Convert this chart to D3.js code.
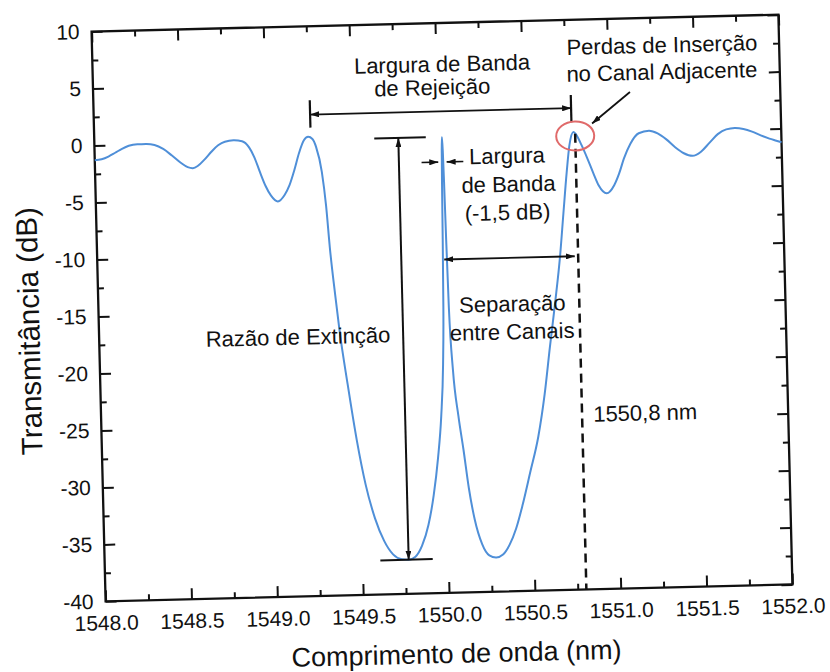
<!DOCTYPE html>
<html>
<head>
<meta charset="utf-8">
<script src="https://cdn.jsdelivr.net/npm/d3@7"></script>
<style>
  body { margin: 0; background: #fff; }
  svg text { font-family: "Liberation Sans", Arial, Helvetica, sans-serif; fill: #111; }
</style>
</head>
<body>
<svg id="chart" width="830" height="672"></svg>
<script>
// Measured filter transmission spectrum (wavelength in nm, transmittance in dB)
const wavelength = [
  1548.00, 1548.04, 1548.08, 1548.12, 1548.16, 1548.20, 1548.25, 1548.30, 1548.35, 1548.40,
  1548.45, 1548.50, 1548.54, 1548.57, 1548.60, 1548.64, 1548.68, 1548.72, 1548.76, 1548.81,
  1548.86, 1548.90, 1548.93, 1548.96, 1548.99, 1549.02, 1549.06, 1549.10, 1549.13, 1549.16,
  1549.19, 1549.22, 1549.245, 1549.27, 1549.29, 1549.32, 1549.34, 1549.356, 1549.38, 1549.40,
  1549.44, 1549.485, 1549.53, 1549.58, 1549.63, 1549.68, 1549.73, 1549.77, 1549.81, 1549.85,
  1549.89, 1549.925, 1549.955, 1549.98, 1549.998, 1550.008, 1550.014, 1550.018, 1550.021, 1550.024,
  1550.027, 1550.030, 1550.034, 1550.040, 1550.055, 1550.08, 1550.105, 1550.13, 1550.16, 1550.20,
  1550.24, 1550.28, 1550.32, 1550.36, 1550.40, 1550.44, 1550.49, 1550.542, 1550.585, 1550.623,
  1550.66, 1550.694, 1550.72, 1550.745, 1550.765, 1550.79, 1550.81, 1550.835, 1550.865, 1550.90,
  1550.93, 1550.975, 1551.02, 1551.05, 1551.08, 1551.12, 1551.17, 1551.23, 1551.28, 1551.33,
  1551.38, 1551.43, 1551.48, 1551.53, 1551.58, 1551.63, 1551.68, 1551.73, 1551.78, 1551.83,
  1551.88, 1551.93, 1551.97, 1552.00
];
const transmittance = [
  -1.30, -1.22, -1.00, -0.68, -0.35, -0.10, 0.02, 0.03, -0.08, -0.45,
  -1.05, -1.70, -2.10, -2.20, -2.00, -1.45, -0.80, -0.25, 0.05, 0.15,
  0.05, -0.50, -1.40, -2.70, -3.90, -4.75, -5.30, -4.75, -3.90, -2.60,
  -1.10, 0.00, 0.30, 0.10, -0.60, -2.80, -5.80, -9.50, -13.60, -16.70,
  -21.50, -26.40, -30.30, -33.30, -35.30, -36.50, -36.95, -37.00, -36.75, -35.80,
  -34.00, -31.40, -28.20, -24.50, -20.00, -15.00, -9.00, -4.00, -1.20, 0.00,
  -1.20, -4.00, -9.00, -15.00, -20.50, -24.50, -27.50, -30.80, -33.60, -35.80,
  -36.80, -37.00, -36.75, -35.90, -34.50, -32.50, -29.60, -26.50, -22.80, -18.60,
  -14.70, -10.80, -7.00, -3.40, -1.00, 0.15, -0.20, -1.00, -2.10, -3.50,
  -4.60, -5.30, -4.60, -3.60, -2.30, -1.00, -0.10, 0.10, -0.15, -0.70,
  -1.40, -1.95, -2.20, -1.85, -1.10, -0.35, 0.05, 0.15, 0.05, -0.20,
  -0.55, -0.85, -1.05, -1.20
];

// Axis ticks
const xMajorTicks = [1548.0, 1548.5, 1549.0, 1549.5, 1550.0, 1550.5, 1551.0, 1551.5, 1552.0];
const xMinorTicks = [1548.25, 1548.75, 1549.25, 1549.75, 1550.25, 1550.75, 1551.25, 1551.75];
const yMajorTicks = [10, 5, 0, -5, -10, -15, -20, -25, -30, -35, -40];
const yMinorTicks = [7.5, 2.5, -2.5, -7.5, -12.5, -17.5, -22.5, -27.5, -32.5, -37.5];

// Annotated quantities
const insertionPeak = 1550.8;       // adjacent channel wavelength (nm)
const rejectionEdges = [1549.26, 1550.78];
const extinctionTop = 0;
const extinctionBottom = -37;
const extinctionAt = 1549.77;
const channelSpacing = [1550.02, 1550.78];

const FONT = '"Liberation Sans", Arial, Helvetica, sans-serif';
const frame = { left: 98.5, right: 785.5, top: 23, bottom: 593 };
const tilt = -1.41;
const cx = (frame.left + frame.right) / 2, cy = (frame.top + frame.bottom) / 2;

const svg = d3.select("#chart");
const defs = svg.append("defs");
defs.append("marker")
  .attr("id", "head")
  .attr("viewBox", "0 0 10 10")
  .attr("refX", 10).attr("refY", 5)
  .attr("markerWidth", 9).attr("markerHeight", 6)
  .attr("markerUnits", "userSpaceOnUse")
  .attr("preserveAspectRatio", "none")
  .attr("orient", "auto-start-reverse")
  .append("path").attr("d", "M0,0 L10,5 L0,10 Z").attr("fill", "#111");

const g = svg.append("g").attr("transform", `rotate(${tilt} ${cx} ${cy})`);

const x = d3.scaleLinear().domain([1548, 1552]).range([frame.left, frame.right]);
const y = d3.scaleLinear().domain([-40, 10]).range([frame.bottom, frame.top]);

function styleAxis(sel) {
  sel.attr("font-family", FONT).attr("font-size", 21);
  sel.select(".domain").remove();
  sel.selectAll(".tick line").attr("stroke", "#111").attr("stroke-width", 2);
  sel.selectAll(".tick text").attr("fill", "#111");
}

// bottom axis with labels
g.append("g").attr("transform", `translate(0,${frame.bottom})`)
  .call(d3.axisBottom(x).tickValues(xMajorTicks).tickSizeInner(-11).tickSizeOuter(0)
    .tickPadding(14).tickFormat(d => d.toFixed(1)))
  .call(styleAxis);
g.append("g").attr("transform", `translate(0,${frame.bottom})`)
  .call(d3.axisBottom(x).tickValues(xMinorTicks).tickSizeInner(-6).tickSizeOuter(0).tickFormat(""))
  .call(styleAxis);
// top axis, ticks only
g.append("g").attr("transform", `translate(0,${frame.top})`)
  .call(d3.axisTop(x).tickValues(xMajorTicks).tickSizeInner(-11).tickSizeOuter(0).tickFormat(""))
  .call(styleAxis);
g.append("g").attr("transform", `translate(0,${frame.top})`)
  .call(d3.axisTop(x).tickValues(xMinorTicks).tickSizeInner(-6).tickSizeOuter(0).tickFormat(""))
  .call(styleAxis);
// left axis with labels (plain hyphen for negatives)
g.append("g").attr("transform", `translate(${frame.left},0)`)
  .call(d3.axisLeft(y).tickValues(yMajorTicks).tickSizeInner(-11).tickSizeOuter(0)
    .tickPadding(12).tickFormat(d => String(d)))
  .call(styleAxis);
g.append("g").attr("transform", `translate(${frame.left},0)`)
  .call(d3.axisLeft(y).tickValues(yMinorTicks).tickSizeInner(-6).tickSizeOuter(0).tickFormat(""))
  .call(styleAxis);
// right axis, ticks only
g.append("g").attr("transform", `translate(${frame.right},0)`)
  .call(d3.axisRight(y).tickValues(yMajorTicks).tickSizeInner(-11).tickSizeOuter(0).tickFormat(""))
  .call(styleAxis);
g.append("g").attr("transform", `translate(${frame.right},0)`)
  .call(d3.axisRight(y).tickValues(yMinorTicks).tickSizeInner(-6).tickSizeOuter(0).tickFormat(""))
  .call(styleAxis);

// plot frame
g.append("rect")
  .attr("x", frame.left).attr("y", frame.top)
  .attr("width", frame.right - frame.left).attr("height", frame.bottom - frame.top)
  .attr("fill", "none").attr("stroke", "#111").attr("stroke-width", 2.3);

// axis titles
g.append("text")
  .attr("x", 448).attr("y", 663)
  .attr("text-anchor", "middle").attr("font-size", 27)
  .text("Comprimento de onda (nm)");
g.append("text")
  .attr("transform", "translate(39,321) rotate(-90)")
  .attr("text-anchor", "middle").attr("font-size", 29.5)
  .text("Transmitância (dB)");

// spectrum
const pts = wavelength.map((w, i) => [w, transmittance[i]]);
g.append("path")
  .datum(pts)
  .attr("fill", "none")
  .attr("stroke", "#4f8fd8")
  .attr("stroke-width", 2)
  .attr("d", d3.line().x(d => x(d[0])).y(d => y(d[1])).curve(d3.curveMonotoneX));

// annotation helpers
function seg(x1, y1, x2, y2, opts = {}) {
  const l = g.append("line")
    .attr("x1", x(x1)).attr("y1", y(y1)).attr("x2", x(x2)).attr("y2", y(y2))
    .attr("stroke", "#111").attr("stroke-width", opts.w || 1.8);
  if (opts.start) l.attr("marker-start", "url(#head)");
  if (opts.end) l.attr("marker-end", "url(#head)");
  if (opts.dash) l.attr("stroke-dasharray", opts.dash);
  return l;
}
function label(txt, xv, yv, anchor = "middle") {
  return g.append("text")
    .attr("x", x(xv)).attr("y", y(yv))
    .attr("text-anchor", anchor).attr("font-size", 22)
    .text(txt);
}

// channel position marker
seg(insertionPeak, 0, insertionPeak, -40, { w: 2.5, dash: "9,6" });
label("1550,8 nm", 1550.865, -25.3, "start");

// rejection bandwidth
seg(rejectionEdges[0], 1.1, rejectionEdges[0], 3.5, { w: 2.2 });
seg(rejectionEdges[1], 1.0, rejectionEdges[1], 3.4, { w: 2.2 });
seg(rejectionEdges[0], 2.25, rejectionEdges[1], 2.25, { start: true, end: true });
label("Largura de Banda", 1550.035, 5.72);
label("de Rejeição", 1549.975, 3.7);

// insertion loss in the adjacent channel
g.append("ellipse")
  .attr("cx", x(insertionPeak)).attr("cy", y(-0.2))
  .attr("rx", 19).attr("ry", 14.5)
  .attr("fill", "none").attr("stroke", "#e06a6a").attr("stroke-width", 2);
seg(1551.125, 3.54, 1550.9, 0.86, { end: true });
label("Perdas de Inserção", 1550.762, 6.92, "start");
label("no Canal Adjacente", 1550.758, 4.58, "start");

// extinction ratio
seg(extinctionAt - 0.14, extinctionTop, extinctionAt + 0.16, extinctionTop, { w: 2 });
seg(extinctionAt - 0.165, extinctionBottom, extinctionAt + 0.14, extinctionBottom, { w: 2 });
seg(extinctionAt, extinctionTop, extinctionAt, extinctionBottom, { start: true, end: true, w: 2 });
label("Razão de Extinção", 1549.158, -17.9);

// -1.5 dB bandwidth
seg(1549.902, -2.2, 1549.999, -2.2, { end: true, w: 1.6 });
seg(1550.145, -2.2, 1550.048, -2.2, { end: true, w: 1.6 });
label("Largura", 1550.40, -2.45);
label("de Banda", 1550.405, -4.95);
label("(-1,5 dB)", 1550.395, -7.42);

// channel spacing
seg(channelSpacing[0], -10.75, channelSpacing[1], -10.75, { start: true, end: true });
label("Separação", 1550.41, -15.45);
label("entre Canais", 1550.405, -17.9);
</script>
</body>
</html>
